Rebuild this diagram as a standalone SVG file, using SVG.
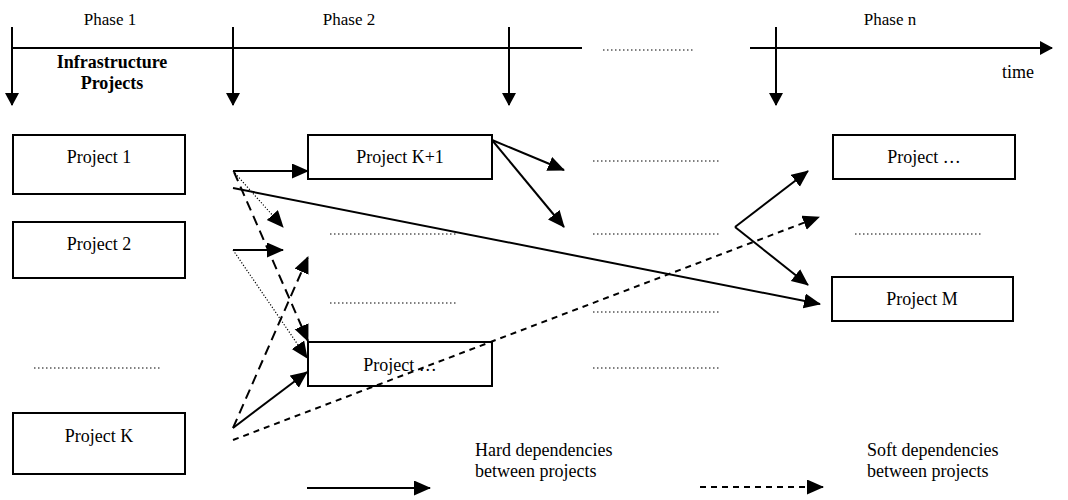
<svg xmlns="http://www.w3.org/2000/svg" width="1068" height="500" viewBox="0 0 1068 500">
  <style>
    text { font-family: "Liberation Serif", "Times New Roman", serif; font-size: 18px; fill: #000; }
    .phase { font-size: 17px; text-anchor: middle; }
    .mid { text-anchor: middle; }
    .bold { font-weight: bold; text-anchor: middle; }
    .box { fill: #fff; stroke: #000; stroke-width: 2; }
    .ln { stroke: #000; stroke-width: 2; fill: none; }
    .soft { stroke-dasharray: 6 5; }
    .long { stroke-dasharray: 10 6; }
    .dots { stroke: #000; stroke-width: 1; stroke-dasharray: 1.5 2.5; fill: none; }
    .dotted { stroke-width: 1.2; stroke-dasharray: 1.2 1.8; }
  </style>
  <defs>
    <marker id="head" markerUnits="userSpaceOnUse" markerWidth="18" markerHeight="16" refX="16" refY="7.5" orient="auto">
      <path d="M0,0 L17,7.5 L0,15 Z" fill="#000"/>
    </marker>
    <marker id="tick" markerUnits="userSpaceOnUse" markerWidth="14" markerHeight="16" refX="12" refY="7" orient="auto">
      <path d="M0,0 L13,7 L0,14 Z" fill="#000"/>
    </marker>
  </defs>

  <!-- time axis -->
  <g id="timeline">
    <line class="ln" x1="12" y1="48" x2="582" y2="48"/>
    <line class="dots" x1="603" y1="50" x2="693" y2="50"/>
    <line class="ln" x1="750" y1="48" x2="1052" y2="48" marker-end="url(#tick)"/>
    <line class="ln" x1="12" y1="27" x2="12" y2="105" marker-end="url(#tick)"/>
    <line class="ln" x1="233" y1="27" x2="233" y2="105" marker-end="url(#tick)"/>
    <line class="ln" x1="509" y1="27" x2="509" y2="105" marker-end="url(#tick)"/>
    <line class="ln" x1="776" y1="27" x2="776" y2="105" marker-end="url(#tick)"/>
    <text class="phase" x="110" y="25">Phase 1</text>
    <text class="phase" x="349" y="25">Phase 2</text>
    <text class="phase" x="890" y="25">Phase n</text>
    <text x="1002" y="78" font-size="17">time</text>
    <text class="bold" x="112" y="68">Infrastructure</text>
    <text class="bold" x="112" y="89">Projects</text>
  </g>

  <!-- projects -->
  <g id="project-1">
    <rect class="box" x="13" y="135" width="172" height="59"/>
    <text class="mid" x="99" y="163">Project 1</text>
  </g>
  <g id="project-2">
    <rect class="box" x="13" y="222" width="172" height="56"/>
    <text class="mid" x="99" y="250">Project 2</text>
  </g>
  <g id="project-k">
    <rect class="box" x="13" y="413" width="172" height="61"/>
    <text class="mid" x="99" y="442">Project K</text>
  </g>
  <g id="project-k1">
    <rect class="box" x="308" y="135" width="184" height="44"/>
    <text class="mid" x="400" y="163">Project K+1</text>
  </g>
  <g id="project-mid">
    <rect class="box" x="308" y="342" width="184" height="44"/>
    <text class="mid" x="400" y="371">Project …</text>
  </g>
  <g id="project-top-right">
    <rect class="box" x="833" y="135" width="182" height="44"/>
    <text class="mid" x="924" y="163">Project …</text>
  </g>
  <g id="project-m">
    <rect class="box" x="832" y="277" width="181" height="44"/>
    <text class="mid" x="922" y="305">Project M</text>
  </g>

  <!-- placeholder rows -->
  <g id="placeholders">
    <line class="dots" x1="34" y1="368" x2="161" y2="368"/>
    <line class="dots" x1="330" y1="234" x2="457" y2="234"/>
    <line class="dots" x1="330" y1="303" x2="457" y2="303"/>
    <line class="dots" x1="593" y1="161" x2="720" y2="161"/>
    <line class="dots" x1="593" y1="234" x2="720" y2="234"/>
    <line class="dots" x1="593" y1="312" x2="720" y2="312"/>
    <line class="dots" x1="593" y1="368" x2="720" y2="368"/>
    <line class="dots" x1="855" y1="234" x2="982" y2="234"/>
  </g>

  <!-- dependencies -->
  <g id="connectors">
    <line class="ln" x1="233" y1="171" x2="308" y2="171" marker-end="url(#head)"/>
    <line class="ln" x1="233" y1="188" x2="820" y2="304" marker-end="url(#head)"/>
    <line class="ln dotted" x1="233" y1="171" x2="283" y2="227" marker-end="url(#head)"/>
    <line class="ln long" x1="234" y1="172" x2="308" y2="341" marker-end="url(#head)"/>
    <line class="ln" x1="233" y1="250" x2="283" y2="250" marker-end="url(#head)"/>
    <line class="ln dotted" x1="233" y1="250" x2="307" y2="358" marker-end="url(#head)"/>
    <line class="ln long" x1="233" y1="428" x2="308" y2="257" marker-end="url(#head)"/>
    <line class="ln" x1="233" y1="428" x2="307" y2="372" marker-end="url(#head)"/>
    <line class="ln soft" x1="233" y1="440" x2="819" y2="217" marker-end="url(#head)"/>
    <line class="ln" x1="492" y1="140" x2="564" y2="170" marker-end="url(#head)"/>
    <line class="ln" x1="492" y1="140" x2="564" y2="227" marker-end="url(#head)"/>
    <line class="ln" x1="735" y1="227" x2="808" y2="171" marker-end="url(#head)"/>
    <line class="ln" x1="735" y1="227" x2="808" y2="285" marker-end="url(#head)"/>
  </g>

  <!-- legend -->
  <g id="legend">
    <line class="ln" x1="307" y1="488" x2="430" y2="488" marker-end="url(#head)"/>
    <text x="475" y="456">Hard dependencies</text>
    <text x="475" y="477">between projects</text>
    <line class="ln soft" x1="700" y1="487" x2="823" y2="487" marker-end="url(#head)"/>
    <text x="867" y="456">Soft dependencies</text>
    <text x="867" y="477">between projects</text>
  </g>
</svg>
